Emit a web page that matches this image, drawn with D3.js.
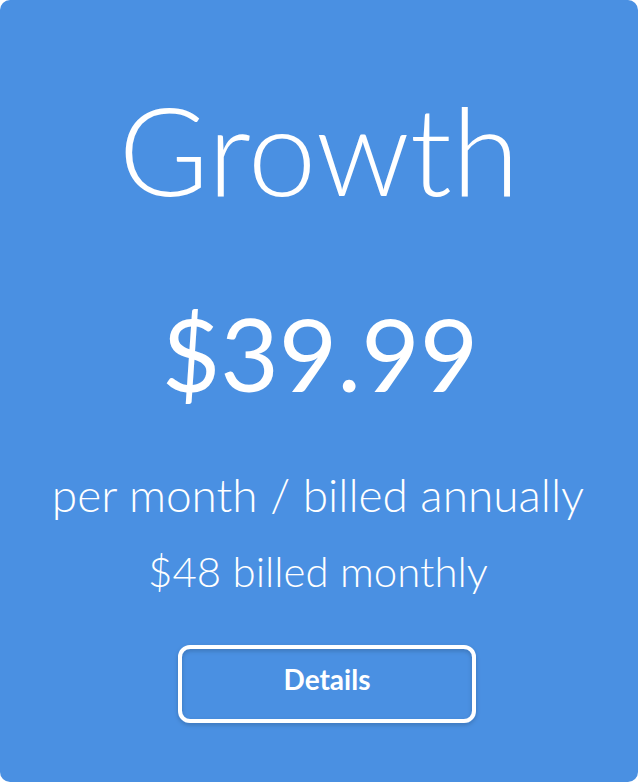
<!DOCTYPE html>
<html><head><meta charset="utf-8">
<script src="https://cdn.jsdelivr.net/npm/d3@7"></script>
<style>html,body{margin:0;padding:0;background:#fff;}</style>
</head><body>
<script>
const title = "Growth";
const price = "$39.99";
const lines = ["per month / billed annually", "$48 billed monthly"];
const button = "Details";

const W = 638, H = 782;
const svg = d3.select("body").append("svg").attr("width", W).attr("height", H);
svg.append("rect").attr("x",0).attr("y",0).attr("width",W).attr("height",H).attr("rx",10).attr("fill","#4a90e2");
const f = "Lato, 'Open Sans', sans-serif";
svg.append("text").attr("x",W/2).attr("y",196).attr("text-anchor","middle").attr("font-family",f)
  .attr("font-weight",300).attr("font-size",123).attr("fill","#fff").text(title);
svg.append("text").attr("x",W/2+1).attr("y",392).attr("text-anchor","middle").attr("font-family",f)
  .attr("font-weight",400).attr("font-size",101).attr("fill","#fff").text(price);
const ly = [512, 587], ls = [46, 42];
lines.forEach((t,i)=>svg.append("text").attr("x",W/2-1).attr("y",ly[i]).attr("text-anchor","middle")
  .attr("font-family",f).attr("font-weight",300).attr("font-size",ls[i]).attr("fill","#fff").text(t));
const defs = svg.append("defs");
const flt = defs.append("filter").attr("id","sh").attr("x","-10%").attr("y","-10%").attr("width","120%").attr("height","130%");
flt.append("feDropShadow").attr("dx",0).attr("dy",2).attr("stdDeviation",2).attr("flood-color","#000").attr("flood-opacity",0.2);
svg.append("rect").attr("x",180).attr("y",647).attr("width",294).attr("height",74).attr("rx",10)
  .attr("fill","none").attr("stroke","#fff").attr("stroke-width",4).attr("filter","url(#sh)");
svg.append("text").attr("x",W/2+8).attr("y",690).attr("text-anchor","middle").attr("font-family",f)
  .attr("font-weight",700).attr("font-size",28).attr("fill","#fff").text(button);
</script>
</body></html>
